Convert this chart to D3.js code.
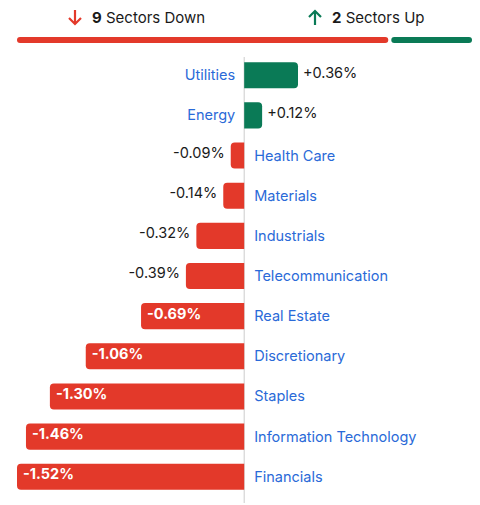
<!DOCTYPE html><html><head><meta charset="utf-8"><script src="https://d3js.org/d3.v7.min.js"></script>
<style>body{margin:0;background:#fff}text{font-family:Inter,"Noto Sans",sans-serif}</style></head><body><svg id="c" width="480" height="505"></svg>
<script>
const sectors=["Utilities","Energy","Health Care","Materials","Industrials","Telecommunication","Real Estate","Discretionary","Staples","Information Technology","Financials"];
const changes=[0.36,0.12,-0.09,-0.14,-0.32,-0.39,-0.69,-1.06,-1.30,-1.46,-1.52];
const downCount=9, upCount=2;
const RED="#e3392a",GREEN="#0a7a56",BLUE="#2a6ad8",DARK="#1a1a1a";
const svg=d3.select("#c");
const x=d3.scaleLinear().domain([-1.52,0.36]).range([17,298]);
const y=d3.scaleBand().domain(sectors).range([55,497]).paddingInner(0.35).paddingOuter(0.18);
// header
const tb=d3.scaleLinear().domain([0,downCount+upCount]).range([17,472]);
svg.append("rect").attr("x",tb(0)).attr("y",37).attr("width",tb(downCount)-tb(0)-1).attr("height",6).attr("rx",3).attr("fill",RED);
svg.append("rect").attr("x",tb(downCount)+2).attr("y",37).attr("width",tb(downCount+upCount)-tb(downCount)-2).attr("height",6).attr("rx",3).attr("fill",GREEN);
svg.append("path").attr("d","M75,10 L75,24 M69,18 L75,24 L81,18").attr("stroke",RED).attr("stroke-width",2.2).attr("fill","none");
svg.append("text").attr("x",92).attr("y",23).attr("font-size",15).attr("fill",DARK).html(`<tspan font-weight="bold">${downCount}</tspan> Sectors Down`);
svg.append("path").attr("d","M315,25 L315,11 M309,17 L315,11 L321,17").attr("stroke",GREEN).attr("stroke-width",2.2).attr("fill","none");
svg.append("text").attr("x",332).attr("y",23).attr("font-size",15).attr("fill",DARK).html(`<tspan font-weight="bold">${upCount}</tspan> Sectors Up`);
// axis line
svg.append("line").attr("x1",x(0)).attr("x2",x(0)).attr("y1",57).attr("y2",503).attr("stroke","#ccc");
const r=4;
function bar(v,top,h){const x0=x(0),x1=x(v);
 if(v>=0)return `M${x0},${top}H${x1-r}Q${x1},${top} ${x1},${top+r}V${top+h-r}Q${x1},${top+h} ${x1-r},${top+h}H${x0}Z`;
 return `M${x0},${top}H${x1+r}Q${x1},${top} ${x1},${top+r}V${top+h-r}Q${x1},${top+h} ${x1+r},${top+h}H${x0}Z`;}
const fmt=v=>(v>0?"+":"")+v.toFixed(2)+"%";
const g=svg.selectAll("g.r").data(sectors.map((s,i)=>({s,v:changes[i]}))).join("g");
g.append("path").attr("d",d=>bar(d.v,y(d.s),y.bandwidth())).attr("fill",d=>d.v>=0?GREEN:RED);
g.append("text").attr("x",d=>d.v>=0?x(0)-9:x(0)+10).attr("y",d=>y(d.s)+y.bandwidth()/2+5).attr("text-anchor",d=>d.v>=0?"end":"start").attr("font-size",14.5).attr("fill",BLUE).text(d=>d.s);
g.append("text").attr("font-size",14.5).attr("y",d=>y(d.s)+y.bandwidth()/2+1).attr("dy","0.1em")
 .each(function(d){const t=d3.select(this);
  if(d.v>=0)t.attr("x",x(d.v)+5).attr("fill",DARK).attr("text-anchor","start");
  else if(d.v<=-0.6)t.attr("x",x(d.v)+6).attr("fill","#fff").attr("font-weight","bold").attr("text-anchor","start");
  else t.attr("x",x(d.v)-6).attr("fill",DARK).attr("text-anchor","end");})
 .text(d=>fmt(d.v));
</script></body></html>
